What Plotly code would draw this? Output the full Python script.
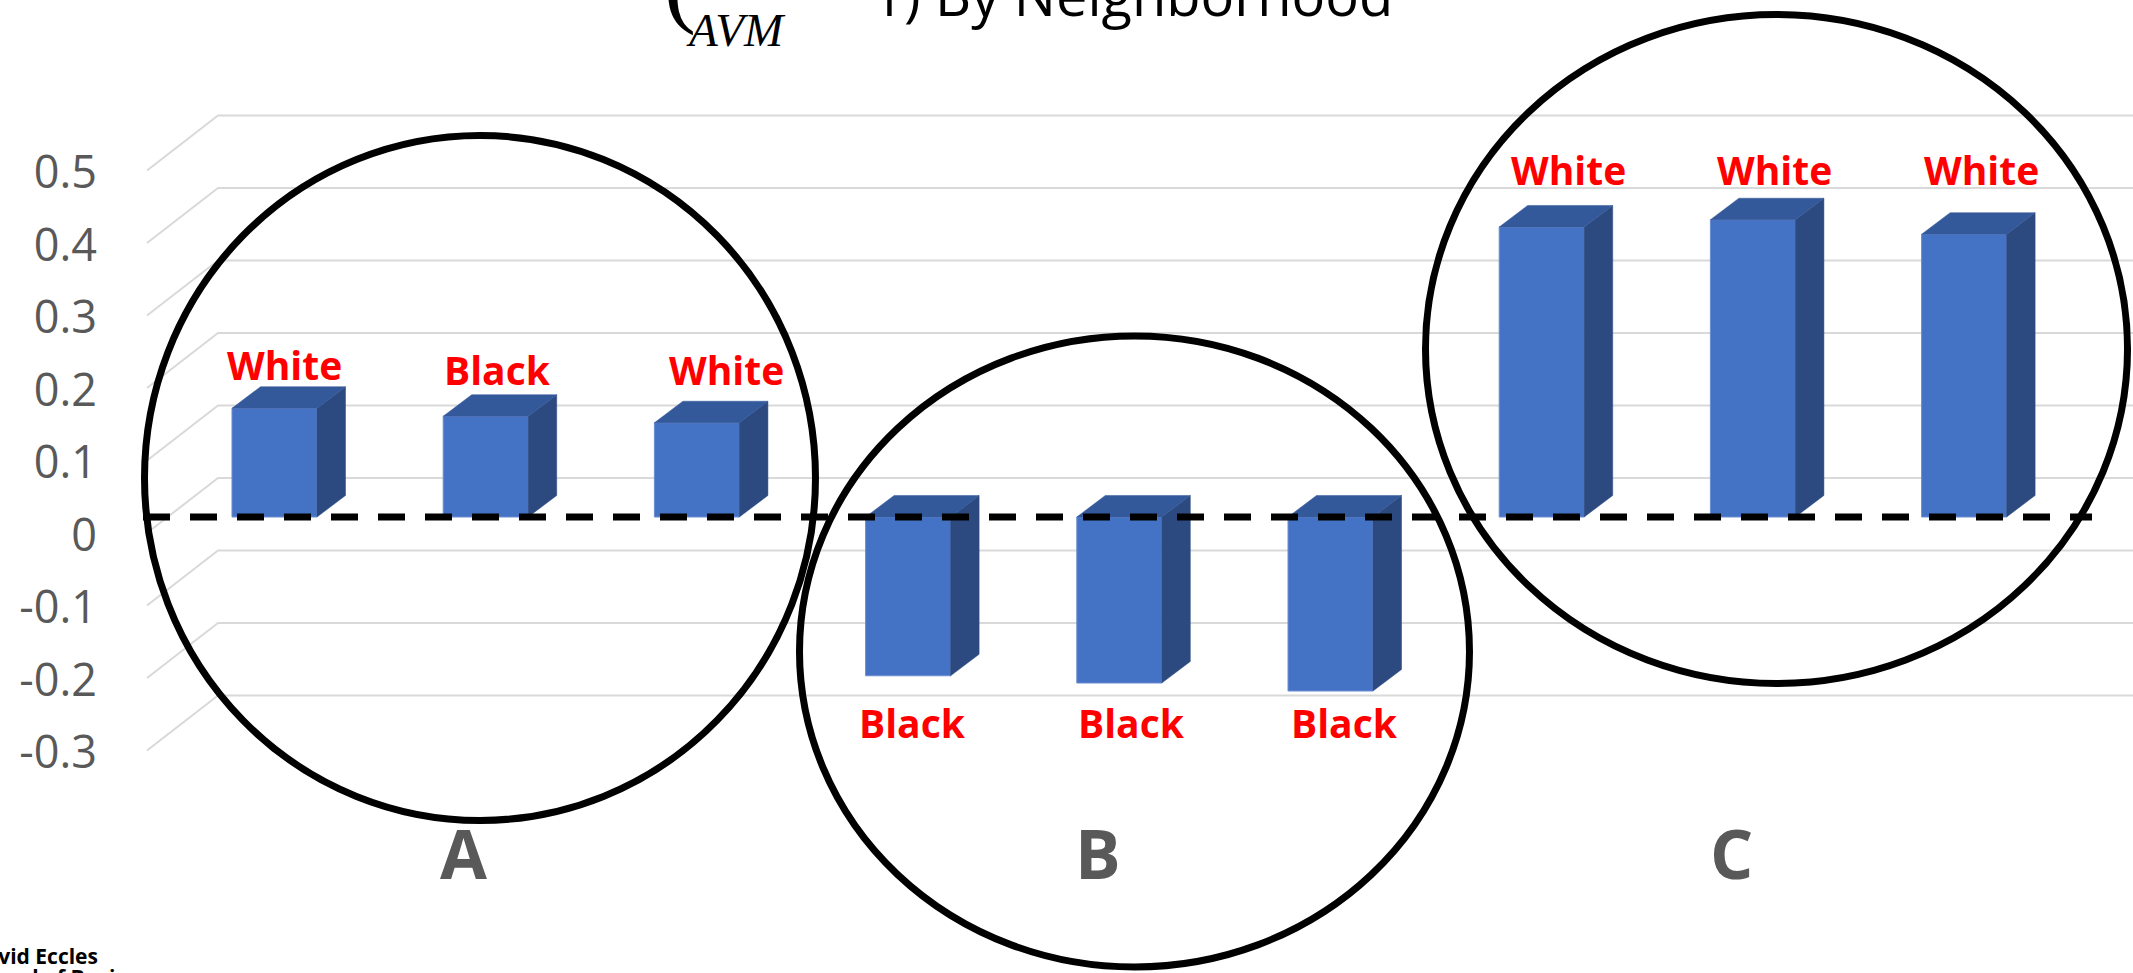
import plotly.graph_objects as go

# ---------------- data ----------------
neighborhoods = ["A", "B", "C"]
bar_values = [0.150, 0.139, 0.130, -0.219, -0.229, -0.240, 0.400, 0.410, 0.390]
majority_labels = ["White", "Black", "White", "Black", "Black", "Black", "White", "White", "White"]
tick_values = [-0.3, -0.2, -0.1, 0, 0.1, 0.2, 0.3, 0.4, 0.5]
tick_labels = ["-0.3", "-0.2", "-0.1", "0", "0.1", "0.2", "0.3", "0.4", "0.5"]

# ---------------- geometry / style ----------------
X_RANGE = [-1.2997, 8.7997]
Y_RANGE = [-0.62897, 0.71310]
BAR_W = 0.4025          # front-face width (category units)
DEPTH_X = 0.135         # receding depth of a column
DEPTH_Y = 0.0297
FLOOR_FRONT = (-0.6037, -0.02207)   # front edge of floor (x, y shift)
WALL_BACK = (-0.2675, 0.05379)      # back wall (x, y shift)
TICK_SHIFT = 0.0245

FRONT = "#4472C4"
TOP = "#34599A"
SIDE = "#2C4A80"
GRID = "#D9D9D9"
AXIS_TXT = "#595959"

xs = list(range(len(bar_values)))
fig = go.Figure()

# back-wall gridlines with their receding floor segment (kept beneath the columns)
for v in tick_values:
    path = "M {:.5f},{:.5f} L {:.5f},{:.5f} L {:.5f},{:.5f}".format(
        FLOOR_FRONT[0], v + FLOOR_FRONT[1], WALL_BACK[0], v + WALL_BACK[1],
        X_RANGE[1] + 1, v + WALL_BACK[1])
    fig.add_shape(type="path", xref="x", yref="y", path=path,
                  line=dict(color=GRID, width=2), layer="below")

# column front faces
fig.add_trace(go.Bar(x=xs, y=bar_values, width=BAR_W, marker=dict(color=FRONT,
                     line=dict(color="#6C8DD2", width=1)), showlegend=False))

# column side and top faces
sx, sy, tx, ty = [], [], [], []
h = BAR_W / 2
for c, v in zip(xs, bar_values):
    sx += [c + h, c + h + DEPTH_X, c + h + DEPTH_X, c + h, c + h, None]
    sy += [0, DEPTH_Y, v + DEPTH_Y, v, 0, None]
    t = max(v, 0)
    tx += [c - h, c - h + DEPTH_X, c + h + DEPTH_X, c + h, c - h, None]
    ty += [t, t + DEPTH_Y, t + DEPTH_Y, t, t, None]
fig.add_trace(go.Scatter(x=sx, y=sy, fill="toself", fillcolor=SIDE, mode="lines",
                         line=dict(color=SIDE, width=0.5), hoverinfo="skip", showlegend=False))
fig.add_trace(go.Scatter(x=tx, y=ty, fill="toself", fillcolor=TOP, mode="lines",
                         line=dict(color=TOP, width=0.5), hoverinfo="skip", showlegend=False))

# dashed zero reference
fig.add_trace(go.Scatter(x=[-0.6226, 8.6056], y=[0, 0], mode="lines",
                         line=dict(color="black", width=7, dash="27px,20px"),
                         hoverinfo="skip", showlegend=False))

# invisible trace so the tick-label axis is drawn
fig.add_trace(go.Scatter(x=[0], y=[0], yaxis="y2", mode="markers",
                         marker=dict(opacity=0), hoverinfo="skip", showlegend=False))

# ---------------- labels ----------------
label_dx = [0.045, 0.058, 0.142, 0.023, 0.060, 0.064, 0.129, 0.104, 0.080]
label_y = [0.211, 0.2028, 0.2028, -0.2828, -0.2828, -0.2828, 0.48, 0.48, 0.48]
for c, txt, dx, ly in zip(xs, majority_labels, label_dx, label_y):
    fig.add_annotation(x=c + dx, y=ly, text=txt, showarrow=False, xanchor="center",
                       yanchor="middle",
                       font=dict(family="Open Sans", size=39, color="#FF0000", weight="bold"))

for k, name in enumerate(neighborhoods):
    fig.add_annotation(x=3 * k + 1 - 0.103, y=-0.4628, text=name, showarrow=False,
                       xanchor="center", yanchor="middle",
                       font=dict(family="Open Sans", size=68, color=AXIS_TXT, weight="bold"))

# title (upper part runs off the top edge)
W, H = 2133, 973
fig.add_annotation(xref="paper", yref="paper", x=662 / W, y=1 - 38 / H, text="(",
                   showarrow=False, xanchor="left", yanchor="bottom",
                   font=dict(family="Liberation Serif", size=96, color="black"))
fig.add_annotation(xref="paper", yref="paper", x=684 / W, y=1 - 58 / H, text="<i>AVM</i>",
                   showarrow=False, xanchor="left", yanchor="bottom",
                   font=dict(family="Liberation Serif", size=47, color="black"))
fig.add_annotation(xref="paper", yref="paper", x=870 / W, y=1 - 34 / H,
                   text="1) By Neighborhood", showarrow=False, xanchor="left",
                   yanchor="bottom", font=dict(family="Open Sans", size=56, color="black"))

# school wordmark in the lower-left corner
for line, top_px in [("David Eccles", 940), ("School of Business", 961)]:
    fig.add_annotation(xref="paper", yref="paper", x=0, y=1 - top_px / H, xshift=-32,
                       text=line, showarrow=False, xanchor="left", yanchor="top",
                       font=dict(family="Open Sans", size=21, color="black", weight="bold"))

# ellipses grouping the neighborhoods
ellipses = [(-0.6155, 2.5615, -0.4186, 0.5262),
            (2.4858, 5.6581, -0.6207, 0.2497),
            (5.4498, 8.7737, -0.2297, 0.6931)]
for x0, x1, y0, y1 in ellipses:
    fig.add_shape(type="circle", xref="x", yref="y", x0=x0, x1=x1, y0=y0, y1=y1,
                  line=dict(color="black", width=7), fillcolor="rgba(0,0,0,0)", layer="above")

fig.update_layout(
    template="none",
    width=W, height=H,
    margin=dict(l=0, r=0, t=0, b=0, pad=0),
    paper_bgcolor="white", plot_bgcolor="white",
    xaxis=dict(range=X_RANGE, visible=False, showgrid=False, zeroline=False, fixedrange=True),
    yaxis=dict(range=Y_RANGE, visible=False, showgrid=False, zeroline=False, fixedrange=True),
    yaxis2=dict(range=[Y_RANGE[0] + TICK_SHIFT, Y_RANGE[1] + TICK_SHIFT], overlaying="y",
                anchor="free", position=97 / W, side="left", showgrid=False,
                zeroline=False, showline=False, ticks="", tickmode="array",
                tickvals=tick_values, ticktext=tick_labels, fixedrange=True,
                tickfont=dict(family="Open Sans", size=45, color=AXIS_TXT)),
    showlegend=False,
)

fig.write_html("out.html")
